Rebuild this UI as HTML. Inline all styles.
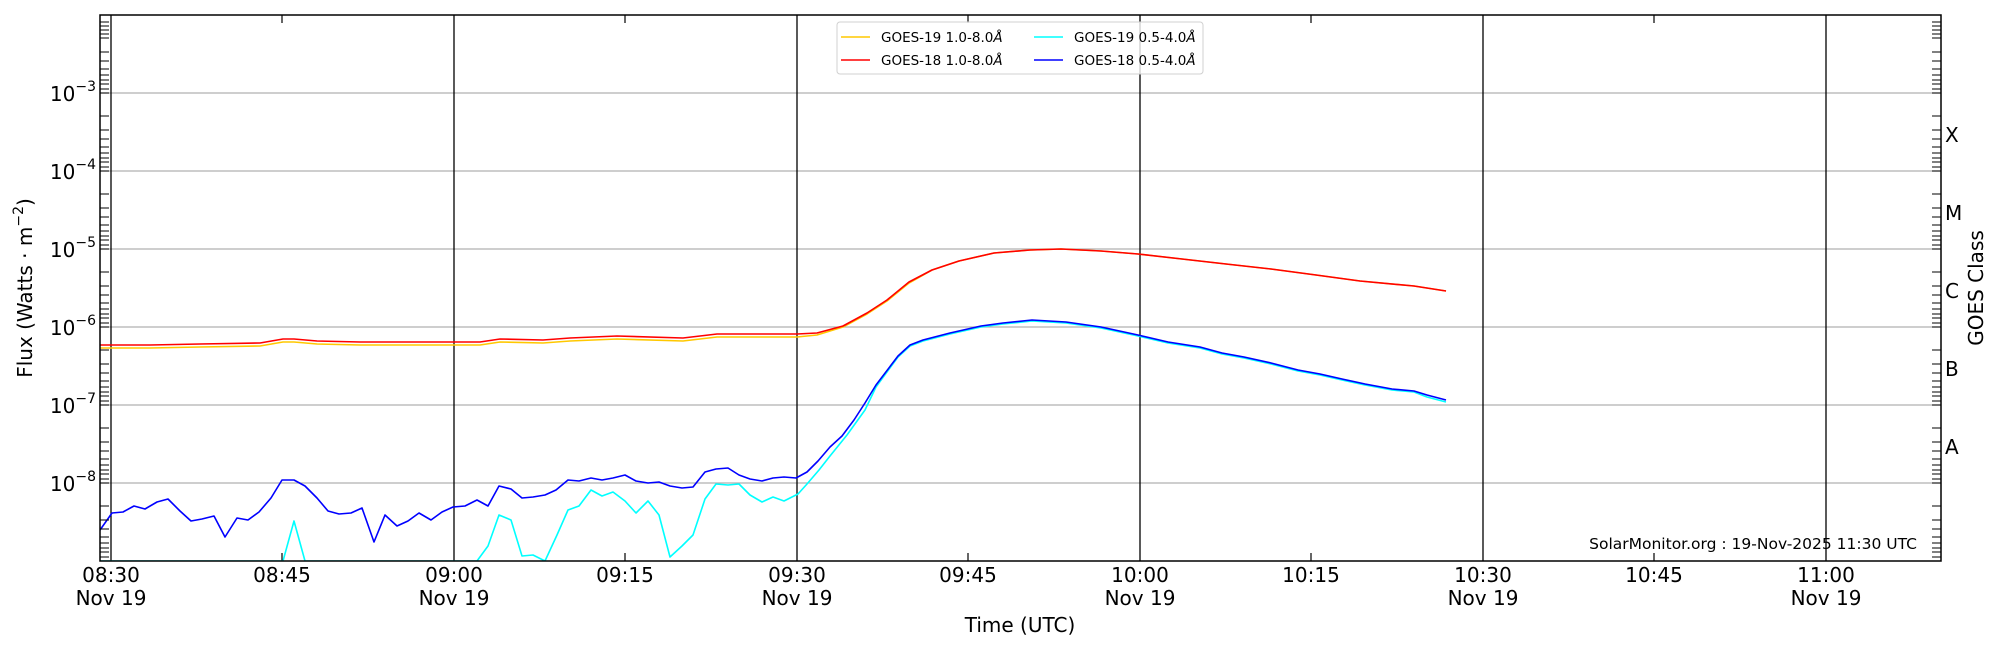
<!DOCTYPE html>
<html><head><meta charset="utf-8"><style>
body{margin:0;background:#fff}
svg{display:block;font-family:"DejaVu Sans","Liberation Sans",sans-serif}
</style></head><body>
<svg width="2000" height="650" viewBox="0 0 2000 650" xmlns="http://www.w3.org/2000/svg">
<defs><clipPath id="c"><rect x="100" y="15" width="1841" height="546"/></clipPath></defs>
<rect width="2000" height="650" fill="#fff"/>
<g stroke="#b0b0b0" stroke-width="1.3">
<line x1="100" x2="1941" y1="93" y2="93"/><line x1="100" x2="1941" y1="171" y2="171"/>
<line x1="100" x2="1941" y1="249" y2="249"/><line x1="100" x2="1941" y1="327" y2="327"/>
<line x1="100" x2="1941" y1="405" y2="405"/><line x1="100" x2="1941" y1="483" y2="483"/>
</g>
<g stroke="#000" stroke-width="1.3">
<line x1="111" x2="111" y1="15" y2="561"/><line x1="454" x2="454" y1="15" y2="561"/>
<line x1="797" x2="797" y1="15" y2="561"/><line x1="1140" x2="1140" y1="15" y2="561"/>
<line x1="1483" x2="1483" y1="15" y2="561"/><line x1="1826" x2="1826" y1="15" y2="561"/>
</g>
<g stroke="#000" stroke-width="1.2">
<line x1="282" x2="282" y1="561" y2="553"/><line x1="625" x2="625" y1="561" y2="553"/>
<line x1="968" x2="968" y1="561" y2="553"/><line x1="1311" x2="1311" y1="561" y2="553"/>
<line x1="1654" x2="1654" y1="561" y2="553"/>
<line x1="282" x2="282" y1="15" y2="23"/><line x1="625" x2="625" y1="15" y2="23"/>
<line x1="968" x2="968" y1="15" y2="23"/><line x1="1311" x2="1311" y1="15" y2="23"/>
<line x1="1654" x2="1654" y1="15" y2="23"/>
</g>
<g fill="none" stroke-width="1.6" stroke-linejoin="round" clip-path="url(#c)">
<polyline stroke="#00ffff" points="100,561 283,561 294,521 305,561 477,561 488,546 499,515 511,520 522,556 533,555 545,561 557,535 568,510 579,506 591,490 602,496 613,492 625,501 636,513 648,501 659,515 670,557 682,546 693,535 705,499 716,484 728,485 739,484 750,495 762,502 773,497 784,501 798,494 807,484 819,470 830,456 847,435 865,410 876,387 898,357 910,346 923,341 950,334 981,327 1003,324 1032,321 1066,323 1101,328 1138,336 1168,343 1200,348 1222,354 1244,358 1271,364 1298,371 1320,375 1342,380 1365,385 1392,390 1414,392 1427,397 1446,402"/>
<polyline stroke="#0000ff" points="100,530 112,513 123,512 134,506 145,509 157,502 168,499 180,511 191,521 202,519 214,516 225,537 237,518 248,520 259,512 271,498 282,480 294,480 305,486 317,498 328,511 339,514 351,513 362,508 374,542 385,515 397,526 408,521 419,513 431,520 442,512 453,507 465,506 477,500 488,506 499,486 511,489 522,498 533,497 545,495 556,490 568,480 579,481 591,478 602,480 613,478 625,475 636,481 648,483 659,482 670,486 682,488 693,487 705,472 716,469 728,468 739,475 750,479 762,481 773,478 784,477 796,478 807,472 818,461 830,447 842,436 854,420 865,403 876,385 898,356 910,345 923,340 950,333 981,326 1003,323 1032,320 1066,322 1101,327 1138,335 1168,342 1200,347 1222,353 1244,357 1271,363 1298,370 1320,374 1342,379 1365,384 1392,389 1414,391 1427,395 1446,400"/>
<polyline stroke="#ffc800" points="100,348 150,348 200,347 260,346 283,342 294,342 317,344 360,345 420,345 453,345 480,345 500,342 543,343 570,341 617,339 683,341 717,337 750,337 797,337 817,335 843,327 867,314 887,301 909,283 932,270 959,261 994,253 1030,250 1061,249 1101,251 1138,254 1182,259 1226,264 1271,269 1316,275 1360,281 1414,286 1446,291"/>
<polyline stroke="#ff0000" points="100,345 150,345 200,344 260,343 283,339 294,339 317,341 360,342 420,342 453,342 480,342 500,339 543,340 570,338 617,336 683,338 717,334 750,334 797,334 817,333 843,326 867,313 887,300 909,282 932,270 959,261 994,253 1030,250 1061,249 1101,251 1138,254 1182,259 1226,264 1271,269 1316,275 1360,281 1414,286 1446,291"/>
</g>
<rect x="100" y="15" width="1841" height="546" fill="none" stroke="#000" stroke-width="1.5"/>
<g font-size="20" text-anchor="end" fill="#000">
<text x="96" y="101">10<tspan font-size="14" dy="-10">−3</tspan></text>
<text x="96" y="179">10<tspan font-size="14" dy="-10">−4</tspan></text>
<text x="96" y="257">10<tspan font-size="14" dy="-10">−5</tspan></text>
<text x="96" y="335">10<tspan font-size="14" dy="-10">−6</tspan></text>
<text x="96" y="413">10<tspan font-size="14" dy="-10">−7</tspan></text>
<text x="96" y="491">10<tspan font-size="14" dy="-10">−8</tspan></text>
</g>
<text transform="translate(32,288) rotate(-90)" font-size="20" text-anchor="middle">Flux (Watts · m<tspan font-size="14" dy="-9">−2</tspan><tspan dy="9">)</tspan></text>
<g font-size="20" text-anchor="middle">
<text x="111" y="582">08:30</text><text x="111" y="605">Nov 19</text>
<text x="282" y="582">08:45</text>
<text x="454" y="582">09:00</text><text x="454" y="605">Nov 19</text>
<text x="625" y="582">09:15</text>
<text x="797" y="582">09:30</text><text x="797" y="605">Nov 19</text>
<text x="968" y="582">09:45</text>
<text x="1140" y="582">10:00</text><text x="1140" y="605">Nov 19</text>
<text x="1311" y="582">10:15</text>
<text x="1483" y="582">10:30</text><text x="1483" y="605">Nov 19</text>
<text x="1654" y="582">10:45</text>
<text x="1826" y="582">11:00</text><text x="1826" y="605">Nov 19</text>
<text x="1020" y="632">Time (UTC)</text>
</g>
<g font-size="20">
<text x="1945" y="142">X</text><text x="1945" y="220">M</text><text x="1945" y="298">C</text>
<text x="1945" y="376">B</text><text x="1945" y="454">A</text>
</g>
<text transform="translate(1983,288) rotate(-90)" font-size="20" text-anchor="middle">GOES Class</text>
<text x="1917" y="549" font-size="15.5" text-anchor="end">SolarMonitor.org : 19-Nov-2025 11:30 UTC</text>
<rect x="837" y="22" width="366" height="52" rx="3" fill="#fff" fill-opacity="0.8" stroke="#d0d0d0" stroke-width="1"/>
<g stroke-width="1.6">
<line x1="841" x2="870" y1="37" y2="37" stroke="#ffc800"/>
<line x1="841" x2="870" y1="60" y2="60" stroke="#ff0000"/>
<line x1="1034" x2="1063" y1="37" y2="37" stroke="#00ffff"/>
<line x1="1034" x2="1063" y1="60" y2="60" stroke="#0000ff"/>
</g>
<g font-size="13.5">
<text x="881" y="42">GOES-19 1.0-8.0<tspan font-style="italic">Å</tspan></text>
<text x="881" y="65">GOES-18 1.0-8.0<tspan font-style="italic">Å</tspan></text>
<text x="1074" y="42">GOES-19 0.5-4.0<tspan font-style="italic">Å</tspan></text>
<text x="1074" y="65">GOES-18 0.5-4.0<tspan font-style="italic">Å</tspan></text>
</g>
<g stroke="#000" stroke-width="1.1">
<path d="M100,93h9M100,171h9M100,249h9M100,327h9M100,405h9M100,483h9M1941,93h-9M1941,171h-9M1941,249h-9M1941,327h-9M1941,405h-9M1941,483h-9
M100,38h9M100,52h9M100,61h9M100,69h9M100,75h9M100,80h9M100,84h9M100,89h9
M100,116h9M100,130h9M100,139h9M100,147h9M100,153h9M100,158h9M100,162h9M100,167h9
M100,194h9M100,208h9M100,217h9M100,225h9M100,231h9M100,236h9M100,240h9M100,245h9
M100,272h9M100,286h9M100,295h9M100,303h9M100,309h9M100,314h9M100,318h9M100,323h9
M100,350h9M100,364h9M100,373h9M100,381h9M100,387h9M100,392h9M100,396h9M100,401h9
M100,428h9M100,442h9M100,451h9M100,459h9M100,465h9M100,470h9M100,474h9M100,479h9
M100,506h9M100,520h9M100,529h9M100,537h9M100,543h9M100,548h9M100,552h9M100,557h9
M100,22h9M100,26h9M100,30h9M100,34h9
M1941,38h-9M1941,52h-9M1941,61h-9M1941,69h-9M1941,75h-9M1941,80h-9M1941,84h-9M1941,89h-9
M1941,116h-9M1941,130h-9M1941,139h-9M1941,147h-9M1941,153h-9M1941,158h-9M1941,162h-9M1941,167h-9
M1941,194h-9M1941,208h-9M1941,217h-9M1941,225h-9M1941,231h-9M1941,236h-9M1941,240h-9M1941,245h-9
M1941,272h-9M1941,286h-9M1941,295h-9M1941,303h-9M1941,309h-9M1941,314h-9M1941,318h-9M1941,323h-9
M1941,350h-9M1941,364h-9M1941,373h-9M1941,381h-9M1941,387h-9M1941,392h-9M1941,396h-9M1941,401h-9
M1941,428h-9M1941,442h-9M1941,451h-9M1941,459h-9M1941,465h-9M1941,470h-9M1941,474h-9M1941,479h-9
M1941,506h-9M1941,520h-9M1941,529h-9M1941,537h-9M1941,543h-9M1941,548h-9M1941,552h-9M1941,557h-9
M1941,22h-9M1941,26h-9M1941,30h-9M1941,34h-9"/>
</g>
</svg>
</body></html>
